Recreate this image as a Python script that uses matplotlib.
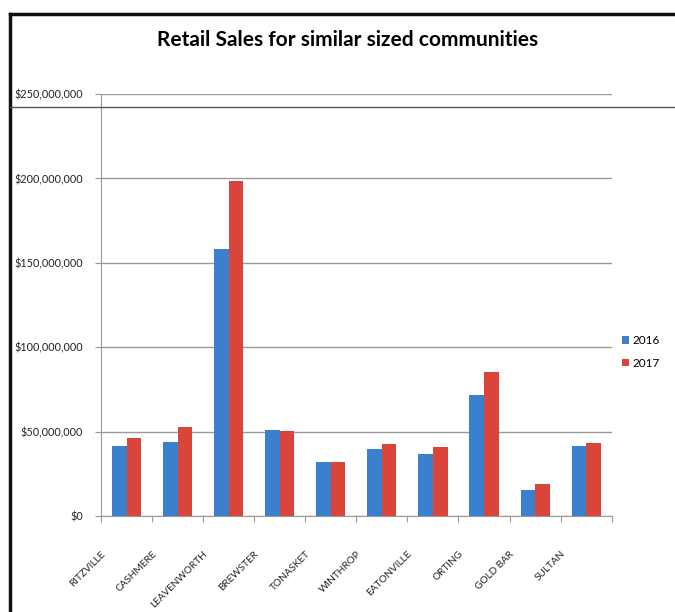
import numpy as np
import matplotlib
matplotlib.use("Agg")
from matplotlib import pyplot as plt
from matplotlib.lines import Line2D
from matplotlib.ticker import FuncFormatter

# values (dollars, in millions)
towns = ["RITZVILLE", "CASHMERE", "LEAVENWORTH", "BREWSTER", "TONASKET",
         "WINTHROP", "EATONVILLE", "ORTING", "GOLD BAR", "SULTAN"]
sales_2016 = [41.6, 43.8, 158.3, 50.7, 32.0, 39.7, 36.7, 71.7, 15.4, 41.6]
sales_2017 = [46.0, 52.7, 198.3, 50.5, 32.0, 42.9, 40.7, 85.5, 18.8, 43.0]

plt.rcParams['font.family'] = ['Lato', 'DejaVu Sans']

fig = plt.figure(figsize=(6.75, 6.12), dpi=100)
ax = fig.add_axes([101 / 675, 96 / 612, 510.7 / 675, 422 / 612])

x = np.arange(len(towns))
w = 0.285
ax.bar(x - w / 2, np.array(sales_2016) * 1e6, w, color="#3A80CE", label="2016", zorder=3)
ax.bar(x + w / 2, np.array(sales_2017) * 1e6, w, color="#D9453A", label="2017", zorder=3)

ax.set_xlim(-0.5, len(towns) - 0.5)
ax.set_ylim(0, 250e6)
ax.set_yticks(np.arange(0, 250e6 + 1, 50e6))
ax.yaxis.set_major_formatter(FuncFormatter(lambda v, p: "${:,.0f}".format(v)))
ax.grid(axis="y", color="#9A9A9A", linewidth=1, zorder=0)

# excel puts the slanted names on the category boundaries
ax.set_xticks(np.arange(len(towns) + 1) - 0.5)
ax.set_xticklabels(towns + [""], rotation=45, ha="right", va="top",
                   rotation_mode="anchor", fontsize=7.2, color="#222222")
ax.tick_params(axis="x", length=4, color="#999999", pad=20)
ax.tick_params(axis="y", length=4, color="#999999", labelsize=7.8, labelcolor="#222222", pad=9)

for s in ["top", "right"]:
    ax.spines[s].set_visible(False)
ax.spines["left"].set_color("#999999")
ax.spines["bottom"].set_color("#999999")

fig.text(0.515, 0.934, "Retail Sales for similar sized communities",
         ha="center", va="center", fontsize=15, fontweight="bold")

ax.legend(loc="center left", bbox_to_anchor=(622 / 675, 1 - 352 / 612),
          bbox_transform=fig.transFigure, frameon=False, fontsize=8.5,
          handlelength=0.6, handleheight=0.6, handletextpad=0.3, labelspacing=1.0,
          borderaxespad=0, borderpad=0)

# frame of the screenshot
fig.add_artist(Line2D([10 / 675, 10 / 675], [0, 1 - 14 / 612], color="#111111", lw=2.5))
fig.add_artist(Line2D([10 / 675, 1], [1 - 14 / 612, 1 - 14 / 612], color="#111111", lw=2.5))
fig.add_artist(Line2D([10 / 675, 1], [1 - 107 / 612, 1 - 107 / 612], color="#555555", lw=1))

fig.savefig("out.png", dpi=100)
